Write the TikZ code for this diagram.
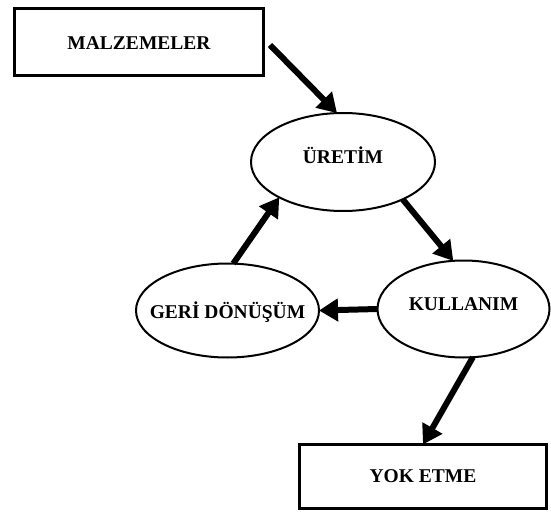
\documentclass[tikz,border=0pt]{standalone}
\usepackage{fontspec}
\setmainfont{Liberation Serif}
\usetikzlibrary{shapes.geometric,arrows.meta}
\tikzset{
  lbl/.style={font=\bfseries\fontsize{19.5}{23}\selectfont, text height=12.9pt, text depth=0pt, inner sep=0pt, outer sep=0pt},
  boxnode/.style={lbl, draw, rectangle, line width=3pt},
  ovalnode/.style={draw, ellipse, line width=2pt, inner sep=0pt, outer sep=0pt},
  arr/.style={line width=6pt, -{Triangle[length=19pt,width=22pt]}}
}
\begin{document}
\begin{tikzpicture}[x=1pt,y=-1pt]
\useasboundingbox (0,0) rectangle (551,513);
\node[boxnode, minimum width=249pt, minimum height=67pt] (malz) at (139,42) {\raisebox{-1.5pt}{MALZEMELER}};
\node[ovalnode, minimum width=184pt, minimum height=98pt,
      label={[lbl, yshift=5pt]center:ÜRETİM}] (uretim) at (343,162) {};
\node[ovalnode, minimum width=172pt, minimum height=97pt,
      label={[lbl, yshift=5pt]center:KULLANIM}] (kull) at (463.5,309) {};
\node[ovalnode, minimum width=183pt, minimum height=94pt,
      label={[lbl, yshift=-1.5pt]center:GERİ DÖNÜŞÜM}] (geri) at (227.5,310.5) {};
\node[boxnode, minimum width=247pt, minimum height=64pt] (yok) at (423,476.5) {YOK ETME};
\draw[arr] ([shift={(6.5,3)}]malz.east) -- (uretim.97);
\draw[arr] (uretim.-32) -- (kull.102);
\draw[arr] (kull.west) -- (geri.east);
\draw[arr] (geri.83.5) -- (uretim.209);
\draw[arr] (kull.-79.5) -- (yok.north);
\end{tikzpicture}
\end{document}
